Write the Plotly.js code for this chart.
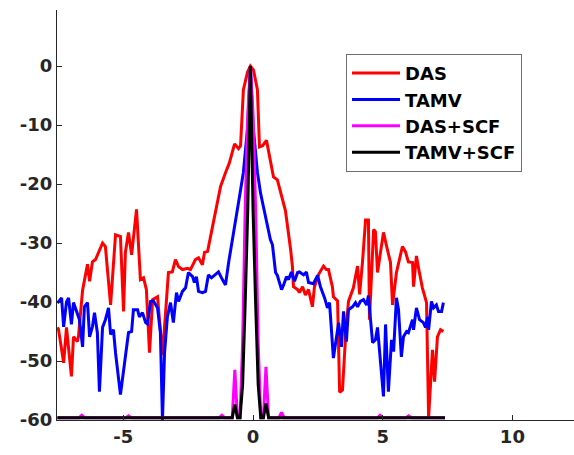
<!DOCTYPE html>
<html>
<head>
<meta charset="utf-8">
<script src="https://cdn.plot.ly/plotly-3.0.1.min.js"></script>
<style>html,body{margin:0;padding:0;background:#fff;}#chart{width:574px;height:455px;}</style>
</head>
<body>
<div id="chart"></div>
<script>
// ---- data ----
const seriesNames = ["DAS", "TAMV", "DAS+SCF", "TAMV+SCF"];

const dasX = [-7.54,-7.50,-7.30,-7.19,-7.00,-6.92,-6.77,-6.73,-6.57,-6.38,-6.30,-6.19,-6.07,-5.80,-5.69,-5.49,-5.30,-5.11,-4.99,-4.92,-4.80,-4.68,-4.49,-4.34,-4.22,-4.11,-3.99,-3.87,-3.68,-3.49,-3.37,-3.26,-3.11,-2.99,-2.87,-2.72,-2.52,-2.41,-2.22,-2.10,-1.95,-1.87,-1.75,-1.64,-1.52,-1.40,-1.25,-1.06,-0.91,-0.71,-0.56,-0.48,-0.37,-0.21,-0.10,0.02,0.17,0.25,0.37,0.52,0.67,0.79,0.94,1.06,1.25,1.45,1.52,1.56,1.72,1.79,1.91,2.02,2.14,2.29,2.37,2.53,2.72,2.83,2.91,3.06,3.10,3.26,3.34,3.45,3.57,3.68,3.87,4.03,4.11,4.22,4.34,4.45,4.49,4.65,4.72,4.80,5.03,5.18,5.30,5.38,5.53,5.76,5.88,5.99,6.15,6.19,6.30,6.38,6.53,6.69,6.77,6.92,7.00,7.11,7.23,7.34];
const dasY = [-44.3,-44.6,-50.3,-44.3,-52.6,-45.9,-46.7,-45.9,-38.0,-33.6,-36.5,-33.2,-32.8,-30.0,-30.6,-40.5,-28.6,-28.9,-41.6,-31.6,-28.2,-32.0,-24.3,-36.2,-35.9,-37.9,-48.6,-39.6,-39.1,-49.0,-41.8,-35.0,-34.9,-32.8,-34.0,-34.5,-34.3,-34.5,-32.8,-32.5,-33.7,-31.6,-31.4,-29.1,-26.1,-23.5,-20.4,-18.1,-16.4,-13.2,-14.0,-13.5,-4.0,-1.0,0.0,-0.7,-4.0,-13.7,-13.5,-12.6,-15.9,-18.8,-19.3,-21.5,-24.5,-31.1,-34.0,-37.4,-37.9,-38.4,-37.4,-38.8,-37.9,-40.8,-37.4,-35.3,-33.9,-34.5,-34.5,-37.4,-39.1,-39.8,-55.3,-54.9,-45.8,-39.9,-37.6,-33.9,-38.7,-33.3,-26.1,-26.1,-43.0,-27.7,-28.1,-35.0,-28.2,-31.1,-33.3,-40.5,-35.0,-30.6,-31.5,-33.2,-33.3,-37.4,-32.2,-34.2,-37.6,-40.1,-59.6,-48.1,-53.5,-45.9,-44.7,-45.0];

const tamvX = [-7.54,-7.38,-7.30,-7.19,-7.11,-7.00,-6.92,-6.80,-6.69,-6.57,-6.50,-6.38,-6.30,-6.19,-6.11,-6.00,-5.92,-5.80,-5.69,-5.57,-5.49,-5.38,-5.30,-5.11,-4.99,-4.88,-4.80,-4.68,-4.61,-4.45,-4.38,-4.26,-4.14,-4.07,-3.95,-3.84,-3.68,-3.57,-3.49,-3.41,-3.30,-3.18,-3.07,-2.95,-2.87,-2.72,-2.60,-2.49,-2.33,-2.26,-2.18,-2.10,-1.95,-1.83,-1.72,-1.60,-1.48,-1.33,-1.18,-1.06,-0.94,-0.79,-0.67,-0.52,-0.37,-0.20,-0.10,0.00,0.17,0.29,0.40,0.56,0.67,0.75,0.87,0.94,1.10,1.18,1.29,1.37,1.48,1.60,1.72,1.79,1.95,2.06,2.14,2.33,2.49,2.60,2.76,2.87,2.95,3.10,3.22,3.30,3.41,3.49,3.60,3.68,3.84,3.95,4.03,4.14,4.26,4.38,4.45,4.53,4.61,4.72,4.80,5.03,5.11,5.22,5.34,5.42,5.53,5.61,5.72,5.80,5.92,5.99,6.15,6.19,6.30,6.42,6.57,6.65,6.73,6.77,6.88,6.96,7.07,7.15,7.27,7.34];
const tamvY = [-40.2,-39.3,-44.2,-40.0,-39.3,-43.8,-40.1,-41.8,-43.0,-47.6,-40.8,-40.1,-45.9,-44.2,-41.8,-45.2,-55.2,-44.3,-43.0,-41.0,-45.5,-44.7,-48.6,-55.7,-51.5,-47.6,-45.2,-45.0,-41.3,-41.3,-42.5,-41.8,-43.5,-43.7,-39.9,-39.8,-41.0,-45.2,-60.0,-48.6,-42.5,-40.1,-43.5,-38.4,-39.9,-38.2,-37.6,-35.0,-35.7,-36.7,-35.7,-38.2,-38.4,-38.2,-35.4,-35.9,-35.4,-34.9,-36.2,-37.1,-33.3,-29.1,-25.5,-22.1,-18.0,-10.0,0.0,-10.0,-18.0,-21.5,-23.8,-27.2,-29.4,-30.3,-35.0,-35.5,-37.9,-37.1,-35.7,-36.2,-34.9,-36.5,-35.0,-34.9,-35.4,-34.9,-36.7,-36.9,-35.5,-37.4,-39.3,-41.0,-40.1,-49.5,-45.5,-43.5,-47.6,-41.6,-46.7,-41.3,-40.8,-40.1,-40.8,-39.9,-39.6,-40.5,-38.9,-43.0,-46.9,-46.4,-44.3,-56.0,-43.8,-55.2,-46.4,-48.4,-39.3,-41.3,-49.3,-45.9,-45.0,-45.2,-43.0,-44.7,-41.0,-43.0,-43.5,-44.3,-42.5,-44.7,-39.9,-41.0,-40.5,-41.6,-41.6,-40.1];

const dasScfX = [-7.54,-6.7,-6.6,-6.5,-4.9,-4.8,-4.7,-1.3,-1.2,-1.1,-0.9,-0.8,-0.7,-0.6,-0.5,-0.4,-0.3,-0.2,-0.1,0.0,0.1,0.2,0.3,0.4,0.5,0.6,0.7,1.0,1.1,1.2,4.8,4.9,5.0,5.9,6.0,6.1,7.4];
const dasScfY = [-59.6,-59.6,-59.2,-59.6,-59.6,-59.3,-59.6,-59.6,-59.2,-59.6,-59.6,-59.6,-51.5,-59.6,-59.6,-47.0,-24.0,-8.0,0.0,-8.0,-24.0,-47.0,-59.6,-59.6,-51.0,-59.6,-59.6,-59.6,-58.7,-59.6,-59.6,-59.2,-59.6,-59.6,-59.3,-59.6,-59.6];

const tamvScfX = [-7.54,-0.8,-0.7,-0.6,-0.5,-0.4,-0.3,-0.2,-0.1,0.0,0.1,0.2,0.3,0.4,0.5,0.6,7.4];
const tamvScfY = [-59.6,-59.6,-57.4,-59.6,-59.6,-54.0,-40.0,-24.0,0.0,-24.0,-40.0,-54.0,-59.6,-59.6,-57.2,-59.6,-59.6];

const xTicks = [-5, 0, 5, 10];
const yTicks = [0, -10, -20, -30, -40, -50, -60];

// ---- chart ----
const colors = ["#ff0000", "#0000ff", "#ff00ff", "#000000"];
const xs = [dasX, tamvX, dasScfX, tamvScfX];
const ys = [dasY, tamvY, dasScfY, tamvScfY];
const traces = seriesNames.map((n, i) => ({
  x: xs[i], y: ys[i], type: "scatter", mode: "lines", name: n,
  line: {color: colors[i], width: 3}
}));

const fontFam = "DejaVu Sans, Liberation Sans, Arial, sans-serif";
const axisCommon = {
  showgrid: false, zeroline: false, showline: true, linecolor: "#262626", linewidth: 1,
  ticks: "inside", ticklen: 5, tickcolor: "#262626", mirror: false,
  tickfont: {family: fontFam, size: 18, color: "#262626", weight: "bold"}
};

const layout = {
  width: 574, height: 455,
  margin: {l: 57, r: 0, t: 10, b: 35, pad: 0},
  paper_bgcolor: "#ffffff", plot_bgcolor: "#ffffff",
  showlegend: true,
  xaxis: Object.assign({}, axisCommon, {range: [-7.556, 12.375], tickvals: xTicks, ticktext: xTicks.map(String)}),
  yaxis: Object.assign({}, axisCommon, {range: [-60, 9.5], tickvals: yTicks, ticktext: yTicks.map(String)}),
  legend: {
    x: 0.559, y: 0.893, xanchor: "left", yanchor: "top",
    bgcolor: "#ffffff", bordercolor: "#6f6f6f", borderwidth: 1,
    font: {family: fontFam, size: 18, color: "#000000", weight: "bold"},
    itemwidth: 48, tracegroupgap: 0
  }
};

Plotly.newPlot("chart", traces, layout, {staticPlot: true, displayModeBar: false});
</script>
</body>
</html>
